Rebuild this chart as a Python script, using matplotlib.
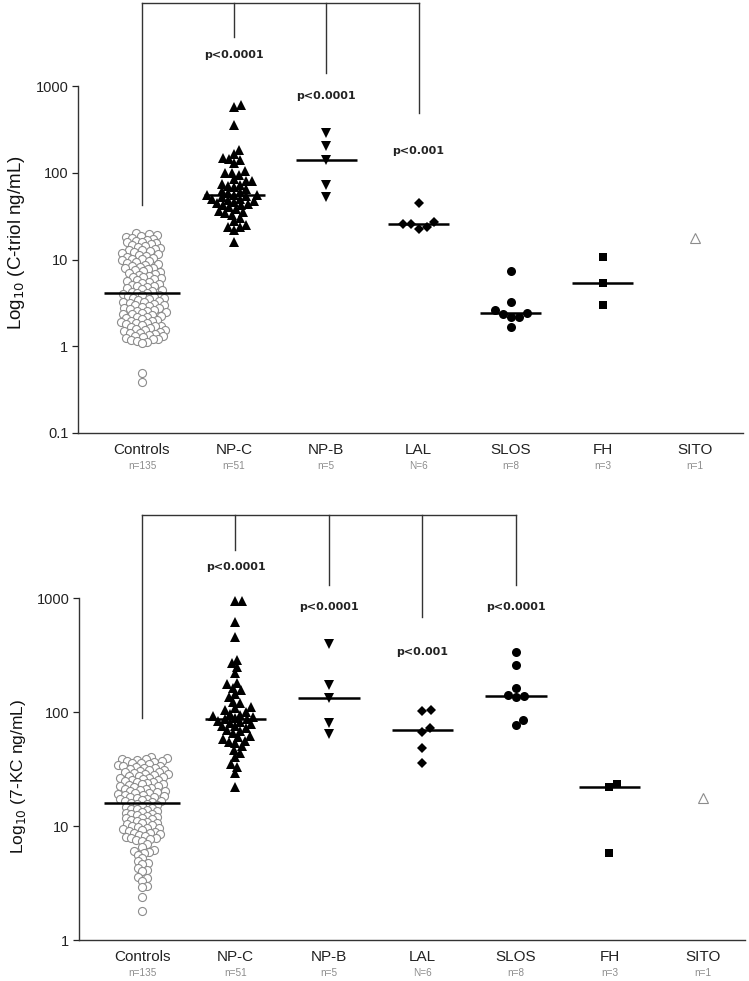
import matplotlib
matplotlib.use("Agg")
import matplotlib.pyplot as plt
import numpy as np

plt.rcParams['font.family'] = ['Liberation Sans', 'DejaVu Sans']

# ----------------------------
# Data
# ----------------------------

groups = ["Controls", "NP-C", "NP-B", "LAL", "SLOS", "FH", "SITO"]
n_labels = ["n=135", "n=51", "n=5", "N=6", "n=8", "n=3", "n=1"]

# C-triol, ng/mL
ctriol_controls = [
    20.0, 19.53, 19.07, 18.62, 18.18, 17.75, 17.33, 16.92, 16.52, 16.13,
    15.75, 15.38, 15.02, 14.67, 14.32, 13.98, 13.65, 13.33, 13.02, 12.71,
    12.41, 12.12, 11.83, 11.55, 11.28, 11.02, 10.76, 10.5, 10.26, 10.01,
    9.78, 9.55, 9.32, 9.1, 8.89, 8.68, 8.47, 8.27, 8.08, 7.89,
    7.7, 7.52, 7.34, 7.17, 7.0, 6.84, 6.68, 6.52, 6.36, 6.21,
    6.07, 5.92, 5.78, 5.65, 5.51, 5.38, 5.26, 5.13, 5.01, 4.9,
    4.78, 4.67, 4.56, 4.45, 4.35, 4.25, 4.15,
    4.1, 4.02, 3.94, 3.86, 3.78, 3.7, 3.63, 3.56, 3.49, 3.42,
    3.35, 3.28, 3.22, 3.15, 3.09, 3.03, 2.97, 2.91, 2.85, 2.79,
    2.74, 2.68, 2.63, 2.58, 2.52, 2.47, 2.42, 2.38, 2.33, 2.28,
    2.24, 2.19, 2.15, 2.1, 2.06, 2.02, 1.98, 1.94, 1.9, 1.86,
    1.83, 1.79, 1.75, 1.72, 1.69, 1.65, 1.62, 1.59, 1.55, 1.52,
    1.49, 1.46, 1.43, 1.41, 1.38, 1.35, 1.32, 1.3, 1.27, 1.25,
    1.22, 1.2, 1.17, 1.15, 1.13, 1.1,
    0.49, 0.39,
]
ctriol_npc = [
    600, 580, 360, 185, 165, 150, 145, 140, 130, 105, 100, 100, 95, 85, 80, 80,
    75, 72, 70, 68, 65, 62, 60, 58, 56, 55, 55, 54, 52, 50, 50, 48, 47, 46, 45,
    44, 42, 42, 40, 38, 36, 35, 34, 33, 30, 28, 25, 24, 24, 22, 16,
]
ctriol_npb = [287, 204, 142, 72, 52]
ctriol_lal = [45, 27, 26, 25.5, 24, 22.5]
ctriol_slos = [7.3, 3.2, 2.6, 2.45, 2.35, 2.2, 2.15, 1.66]
ctriol_fh = [10.7, 5.35, 2.98]
ctriol_sito = [17.7]

# 7-KC, ng/mL
kc_controls = [
    40.0, 39.46, 38.92, 38.39, 37.87, 37.35, 36.85, 36.35, 35.85, 35.36,
    34.88, 34.41, 33.94, 33.48, 33.03, 32.58, 32.14, 31.7, 31.27, 30.84,
    30.42, 30.01, 29.6, 29.2, 28.8, 28.41, 28.03, 27.65, 27.27, 26.9,
    26.54, 26.18, 25.82, 25.47, 25.13, 24.78, 24.45, 24.12, 23.79, 23.47,
    23.15, 22.83, 22.52, 22.22, 21.92, 21.62, 21.33, 21.04, 20.75, 20.47,
    20.19, 19.92, 19.65, 19.38, 19.12, 18.86, 18.61, 18.35, 18.1, 17.86,
    17.62, 17.38, 17.14, 16.91, 16.68, 16.45, 16.23,
    16.0, 15.73, 15.47, 15.22, 14.96, 14.72, 14.47, 14.23, 13.99, 13.76,
    13.53, 13.31, 13.09, 12.87, 12.66, 12.45, 12.24, 12.04, 11.84, 11.64,
    11.45, 11.26, 11.07, 10.88, 10.7, 10.52, 10.35, 10.18, 10.01, 9.84,
    9.68, 9.52, 9.36, 9.2, 9.05, 8.9, 8.75, 8.61, 8.46, 8.32,
    8.18, 8.05, 7.91, 7.78, 7.65, 7.52, 7.4,
    7.0, 6.6, 6.2, 6.0, 5.9, 5.8, 5.6, 5.2, 4.9, 4.7, 4.6, 4.3, 4.1, 4.0,
    3.6, 3.5, 3.3, 3.0, 2.9, 2.4, 1.8,
]
kc_npc = [
    950, 940, 620, 458, 286, 268, 250, 220, 180, 175, 163, 156, 144, 135, 122,
    120, 110, 108, 104, 100, 97, 95, 92, 90, 88, 87, 86, 84, 82, 80, 78, 76, 75,
    73, 70, 68, 65, 62, 60, 58, 56, 55, 53, 50, 46, 44, 40, 35, 33, 29, 22,
]
kc_npb = [395, 173, 132, 80, 64]
kc_lal = [104, 102, 72, 67, 48, 36]
kc_slos = [338, 258, 163, 141, 138, 136, 85, 77]
kc_fh = [23.5, 22.2, 5.8]
kc_sito = [17.5]

ctriol = [ctriol_controls, ctriol_npc, ctriol_npb, ctriol_lal,
          ctriol_slos, ctriol_fh, ctriol_sito]
kc = [kc_controls, kc_npc, kc_npb, kc_lal, kc_slos, kc_fh, kc_sito]

# comparisons vs controls: group index, p label
ctriol_tests = [(1, "p<0.0001"), (2, "p<0.0001"), (3, "p<0.001")]
kc_tests = [(1, "p<0.0001"), (2, "p<0.0001"), (3, "p<0.001"), (4, "p<0.0001")]

# ----------------------------
# Styling
# ----------------------------

GRAY = '#8c8c8c'
styles = [
    dict(marker='o', ms=5.8, mfc='white', mec=GRAY, mew=0.8),
    dict(marker='^', ms=7.5, mfc='black', mec='black', mew=0),
    dict(marker='v', ms=7.5, mfc='black', mec='black', mew=0),
    dict(marker='D', ms=5, mfc='black', mec='black', mew=0),
    dict(marker='o', ms=6.5, mfc='black', mec='black', mew=0),
    dict(marker='s', ms=6.3, mfc='black', mec='black', mew=0),
    dict(marker='^', ms=6.5, mfc='white', mec=GRAY, mew=0.8),
]
# minimum spacing between points in the swarm, px
spacing = [5.6, 6.6, 8.5, 8.5, 8.5, 8.5, 8.5]


def swarm(values, d, px_dec, px_x):
    # simple beeswarm in pixel space, returns x offsets in data units
    y = np.log10(np.asarray(values, float)) * px_dec
    order = np.argsort(y)
    px_list, py_list = [], []
    xs = np.zeros(len(y))
    for i in order:
        cands = [0.0]
        for px, py in zip(px_list, py_list):
            dy = y[i] - py
            if abs(dy) < d:
                dx = np.sqrt(d * d - dy * dy)
                cands += [px + dx, px - dx]
        cands.sort(key=lambda c: (abs(c), -c))
        chosen = cands[-1]
        for c in cands:
            if all((c - px) ** 2 + (y[i] - py) ** 2 >= d * d - 1e-6
                   for px, py in zip(px_list, py_list)):
                chosen = c
                break
        px_list.append(chosen)
        py_list.append(y[i])
        xs[i] = chosen
    return xs / px_x


def draw_panel(ax, data, tests, ylabel, ylabel_size, yticks, ylim, xlim,
               px_dec, px_x, top_y, ctrl_drop, drops, plabels, label_y):
    for i, vals in enumerate(data):
        xo = swarm(vals, spacing[i], px_dec, px_x)
        ax.plot(i + xo, vals, ls='none', zorder=3, **styles[i])
        if len(vals) > 1:
            hw = 0.41 if i == 0 else 0.33
            ax.plot([i - hw, i + hw], [np.median(vals)] * 2, color='black',
                    lw=1.8, zorder=4, solid_capstyle='butt')

    # comparison bracket
    last = tests[-1][0]
    kw = dict(color='#333333', lw=1.0, clip_on=False, zorder=2)
    ax.plot([0, last], [top_y, top_y], **kw)
    ax.plot([0, 0], [top_y, ctrl_drop], **kw)
    for (g, p), dy, py in zip(tests, drops, plabels):
        ax.plot([g, g], [top_y, dy], **kw)
        ax.text(g, py, p, ha='center', va='center', fontsize=8,
                fontweight='bold', family='DejaVu Sans', color='#222222')

    ax.set_yscale('log')
    ax.set_ylim(*ylim)
    ax.set_xlim(*xlim)
    ax.set_yticks(yticks)
    ax.set_yticklabels([("%g" % t) for t in yticks])
    ax.minorticks_off()
    ax.tick_params(axis='y', direction='out', length=4, width=0.9,
                   labelsize=10.5, pad=3, colors='#222222')
    ax.set_xticks([])
    for s in ['top', 'right']:
        ax.spines[s].set_visible(False)
    ax.spines['left'].set_bounds(yticks[0], yticks[-1])
    for s in ['left', 'bottom']:
        ax.spines[s].set_color('#333333')
        ax.spines[s].set_linewidth(1.0)

    for i, (g, n) in enumerate(zip(groups, n_labels)):
        ax.annotate(g, xy=(i, 0), xycoords=('data', 'axes fraction'),
                    xytext=(0, -12), textcoords='offset points',
                    ha='center', va='center', fontsize=11, color='#222222')
        ax.annotate(n, xy=(i, 0), xycoords=('data', 'axes fraction'),
                    xytext=(0, -23.5), textcoords='offset points',
                    ha='center', va='center', fontsize=7.2, color=GRAY)

    ax.set_ylabel(ylabel, fontsize=ylabel_size, color='#111111')
    ax.yaxis.set_label_coords(-0.077, label_y)


fig = plt.figure(figsize=(7.49, 9.81), dpi=100)

ax1 = fig.add_axes([78 / 749, (981 - 433) / 981, 665 / 749, 433 / 981])
draw_panel(ax1, ctriol, ctriol_tests, "Log$_{10}$ (C-triol ng/mL)", 13.5,
           [0.1, 1, 10, 100, 1000], (0.1, 10 ** 3.992), (-0.694, 6.52),
           86.7, 92.2,
           top_y=9000, ctrl_drop=42, drops=[3670, 1410, 488],
           plabels=[2275, 767, 178], label_y=0.439)

ax2 = fig.add_axes([79 / 749, (981 - 940) / 981, 666 / 749, 435 / 981])
draw_panel(ax2, kc, kc_tests, "Log$_{10}$ (7-KC ng/mL)", 12.5,
           [1, 10, 100, 1000], (1, 10 ** 3.816), (-0.674, 6.45),
           114.0, 93.5,
           top_y=5350, ctrl_drop=88, drops=[2640, 1300, 681, 1300],
           plabels=[1870, 834, 336, 834], label_y=0.377)

fig.savefig("out.png", dpi=100)
